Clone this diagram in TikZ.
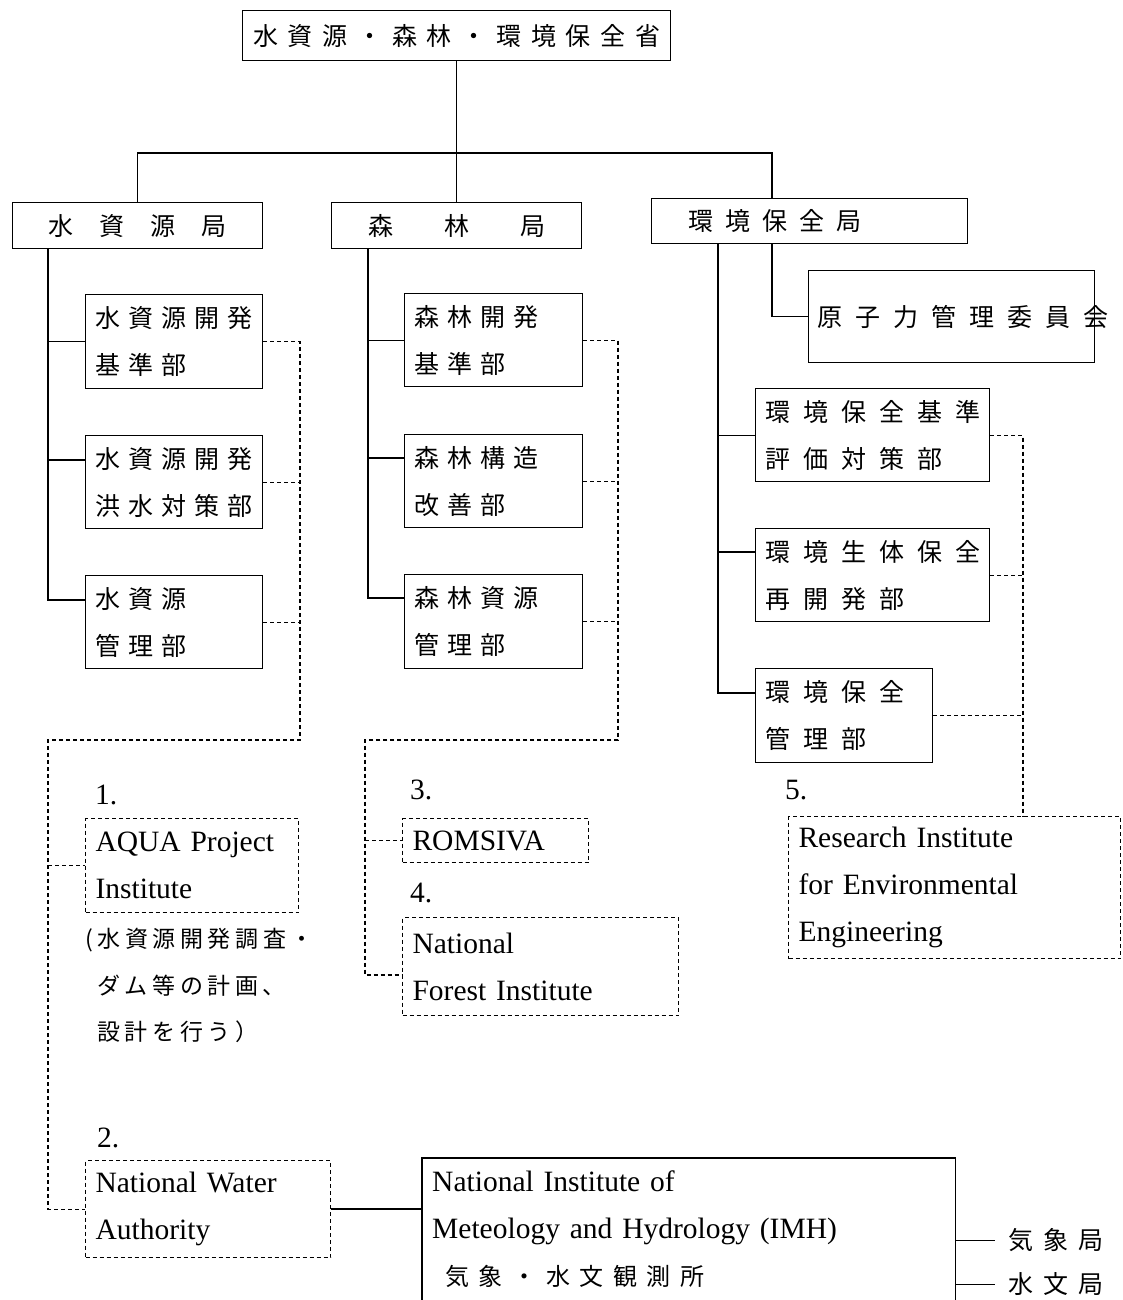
\documentclass[tikz,border=0pt]{standalone}
\usepackage{fontspec}
\setmainfont{Liberation Serif}
\newfontfamily\jpfont{Noto Sans CJK JP}
\usetikzlibrary{positioning}

\begin{document}
\begin{tikzpicture}[x=1pt, y=-1pt,
    box/.style={draw, line width=1.4pt, anchor=north west, inner ysep=0pt,
                inner xsep=10pt, align=left},
    dbox/.style={box, line width=1.1pt, dash pattern=on 4pt off 3pt},
    jp/.style={font=\jpfont\fontsize{25}{47}\selectfont\addfontfeature{LetterSpace=#1}},
    en/.style={font=\fontsize{29.5}{47}\selectfont},
    num/.style={anchor=west, inner sep=0pt, font=\fontsize{29.5}{30}\selectfont},
    tree/.style={line width=1.3pt},
    dline/.style={line width=1.1pt, dash pattern=on 4pt off 3pt}
  ]
  \useasboundingbox (0,0) rectangle (1122,1300);

  % ministry and bureaus
  \node[box, jp=39, align=center, minimum width=428pt, minimum height=50pt] (min) at (242,10) {水資源・森林・環境保全省};
  \node[box, jp=104, align=center, minimum width=250pt, minimum height=46pt] (k1) at (12,202) {水資源局};
  \node[box, jp=204, align=center, minimum width=250pt, minimum height=46pt] (k2) at (331,202) {森林局};
  \node[box, jp=48, inner xsep=37pt, text width=242pt, minimum height=45pt] (k3) at (651,198) {環境保全局};

  % water departments
  \node[box, jp=32, text width=157pt, minimum height=94pt] (w1) at (85,294) {水資源開発\\基準部};
  \node[box, jp=32, text width=157pt, minimum height=93pt] (w2) at (85,435) {水資源開発\\洪水対策部};
  \node[box, jp=32, text width=157pt, minimum height=93pt] (w3) at (85,575) {水資源\\管理部};

  % forest departments
  \node[box, jp=32, text width=158pt, minimum height=93pt] (f1) at (404,293) {森林開発\\基準部};
  \node[box, jp=32, text width=158pt, minimum height=93pt] (f2) at (404,434) {森林構造\\改善部};
  \node[box, jp=32, text width=158pt, minimum height=94pt] (f3) at (404,574) {森林資源\\管理部};

  % environment departments
  \node[box, jp=52, inner xsep=9pt, text width=268pt, minimum height=92pt] (genshi) at (808,270) {原子力管理委員会};
  \node[box, jp=52, text width=214pt, minimum height=93pt] (e1) at (755,388) {環境保全基準\\評価対策部};
  \node[box, jp=52, text width=214pt, minimum height=93pt] (e2) at (755,528) {環境生体保全\\再開発部};
  \node[box, jp=52, text width=157pt, minimum height=94pt] (e3) at (755,668) {環境保全\\管理部};

  % institutes
  \node[num] (n1) at (95,795) {1.};
  \node[dbox, en, text width=193pt, minimum height=94pt] (aqua) at (85,818) {AQUA Project\\Institute};
  \node[anchor=north west, inner sep=0pt, align=left,
        font=\jpfont\fontsize{23}{46.5}\selectfont\addfontfeature{LetterSpace=20}] (note) at (85,928)
        {(水資源開発調査・\\\hspace*{12pt}ダム等の計画、\\\hspace*{12pt}設計を行う）};
  \node[num] (n3) at (410,790) {3.};
  \node[dbox, en, text width=166pt, minimum height=44pt] (romsiva) at (402,818) {ROMSIVA};
  \node[num] (n4) at (410,893) {4.};
  \node[dbox, en, text width=256pt, minimum height=98pt] (nfi) at (402,917) {National\\Forest Institute};
  \node[num] (n5) at (785,790) {5.};
  \node[dbox, en, text width=312pt, minimum height=142pt] (riee) at (788,816) {Research Institute\\for Environmental\\Engineering};
  \node[num] (n2) at (97,1138) {2.};
  \node[dbox, en, text width=225pt, minimum height=97pt] (nwa) at (85,1160) {National Water\\Authority};
  \node[anchor=north west, inner xsep=10pt, inner ysep=0pt, align=left, en, text width=513pt,
        minimum height=142pt] (imh) at (422,1158)
        {National Institute of\\Meteology and Hydrology (IMH)\\
         \hspace*{13pt}{\jpfont\fontsize{24}{47}\selectfont\addfontfeature{LetterSpace=40}気象・水文観測所}};
  \node[anchor=west, inner xsep=13pt, jp=40] (kisho) at (995,1240) {気象局};
  \node[anchor=west, inner xsep=13pt, jp=40] (suimon) at (995,1284) {水文局};

  % ministry to bureaus
  \coordinate (busR) at (772,153);
  \draw[tree] (min.south) -- (k2.north);
  \draw[tree] (k1.north) |- (busR) -- (busR |- k3.north);

  % water tree
  \coordinate (wtop) at (48,248);
  \coordinate (w2in) at ([yshift=-25pt]w2.north west);
  \coordinate (w3in) at ([yshift=-25pt]w3.north west);
  \draw[tree] (wtop) |- (w3in);
  \draw[tree] (wtop |- w1.west) -- (w1.west);
  \draw[tree] (wtop |- w2in) -- (w2in);

  % forest tree
  \coordinate (ftop) at (368,248);
  \coordinate (f2in) at ([yshift=-24pt]f2.north west);
  \coordinate (f3in) at ([yshift=-24pt]f3.north west);
  \draw[tree] (ftop) |- (f3in);
  \draw[tree] (ftop |- f1.west) -- (f1.west);
  \draw[tree] (ftop |- f2in) -- (f2in);

  % environment tree
  \coordinate (etop) at (718,243);
  \coordinate (gtop) at (772,243);
  \coordinate (e2in) at ([yshift=-24pt]e2.north west);
  \coordinate (e3in) at ([yshift=-25pt]e3.north west);
  \draw[tree] (gtop) |- (genshi.west);
  \draw[tree] (etop) |- (e3in);
  \draw[tree] (etop |- e1.west) -- (e1.west);
  \draw[tree] (etop |- e2in) -- (e2in);

  % dotted links to institutes
  \coordinate (wbus) at (300,740);
  \coordinate (wleft) at (48,740);
  \draw[dline] (w1.east) -| (wbus) -- (wleft) |- (nwa.west);
  \draw[dline] (w2.east) -- (w2.east -| wbus);
  \draw[dline] (w3.east) -- (w3.east -| wbus);
  \draw[dline] (wleft |- aqua.west) -- (aqua.west);

  \coordinate (fbus) at (618,740);
  \coordinate (fleft) at (365,740);
  \coordinate (nfiin) at ([yshift=-58pt]nfi.north west);
  \draw[dline] (f1.east) -| (fbus) -- (fleft) |- (nfiin);
  \draw[dline] (f2.east) -- (f2.east -| fbus);
  \draw[dline] (f3.east) -- (f3.east -| fbus);
  \draw[dline] (fleft |- romsiva.west) -- (romsiva.west);

  \coordinate (ebus) at (riee.north -| 1023,0);
  \draw[dline] (e1.east) -| (ebus);
  \draw[dline] (e2.east) -- (e2.east -| ebus);
  \draw[dline] (e3.east) -- (e3.east -| ebus);

  % meteorology
  \draw[tree] (nwa.east) -- (nwa.east -| imh.west);
  \draw[line width=1.4pt] (imh.south west) |- (imh.north east) -- (imh.south east);
  \draw[line width=0.9pt] (kisho.west -| imh.east) -- (kisho.west);
  \draw[line width=0.9pt] (suimon.west -| imh.east) -- (suimon.west);
\end{tikzpicture}
\end{document}
